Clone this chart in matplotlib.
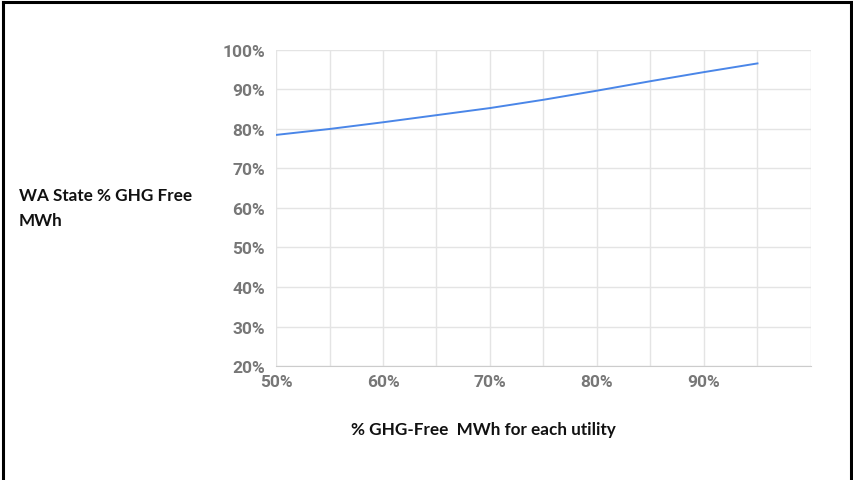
import matplotlib
matplotlib.use("Agg")
import matplotlib.pyplot as plt
from matplotlib.lines import Line2D
from matplotlib.ticker import FuncFormatter, MultipleLocator

# Utility-level GHG-free share (x) vs state-wide GHG-free share (y), in %
utility_pct = [50, 55, 60, 65, 70, 75, 80, 85, 90, 95]
state_pct = [78.5, 80.0, 81.7, 83.5, 85.3, 87.4, 89.7, 92.1, 94.4, 96.6]

x_ticks = [50, 60, 70, 80, 90]
y_ticks = [20, 30, 40, 50, 60, 70, 80, 90, 100]

fig = plt.figure(figsize=(8.54, 4.81), dpi=100)
ax = fig.add_axes([0.3232, 0.237, 0.6264, 0.657])

ax.plot(utility_pct, state_pct, color="#4a86e8", linewidth=1.4)

ax.set_xlim(50, 100)
ax.set_ylim(20, 100)
ax.set_xticks(x_ticks)
ax.set_yticks(y_ticks)
ax.xaxis.set_minor_locator(MultipleLocator(5))

pct = FuncFormatter(lambda v, pos: f"{v:.0f}%")
ax.xaxis.set_major_formatter(pct)
ax.yaxis.set_major_formatter(pct)

ax.grid(True, which="both", color="#e4e4e4", linewidth=1.0)
ax.set_axisbelow(True)
for side in ["top", "right", "left"]:
    ax.spines[side].set_visible(False)
ax.spines["bottom"].set_color("#cccccc")

ax.tick_params(axis="both", which="both", length=0, labelcolor="#777777",
               labelsize=12.5)
ax.tick_params(axis="x", pad=6)
ax.tick_params(axis="y", pad=8)
for lbl in ax.get_xticklabels() + ax.get_yticklabels():
    lbl.set_fontfamily("Roboto")
    lbl.set_fontweight("bold")

# axis captions placed as in the original slide
fig.text(0.022, 0.567, "WA State % GHG Free\nMWh", fontsize=12.3, fontweight="bold",
         family="Lato", color="#111111", ha="left", va="center", linespacing=1.7)
fig.text(0.566, 0.106, "% GHG-Free  MWh for each utility", fontsize=12.3,
         fontweight="bold", family="Lato", color="#111111", ha="center", va="center")

# black frame around the slide (no bottom edge)
frame = dict(color="black", linewidth=2.2, transform=fig.transFigure)
fig.add_artist(Line2D([0.004, 0.004], [0.0, 0.994], **frame))
fig.add_artist(Line2D([0.996, 0.996], [0.0, 0.994], **frame))
fig.add_artist(Line2D([0.004, 0.996], [0.994, 0.994], **frame))

fig.savefig("out.png", dpi=100)
